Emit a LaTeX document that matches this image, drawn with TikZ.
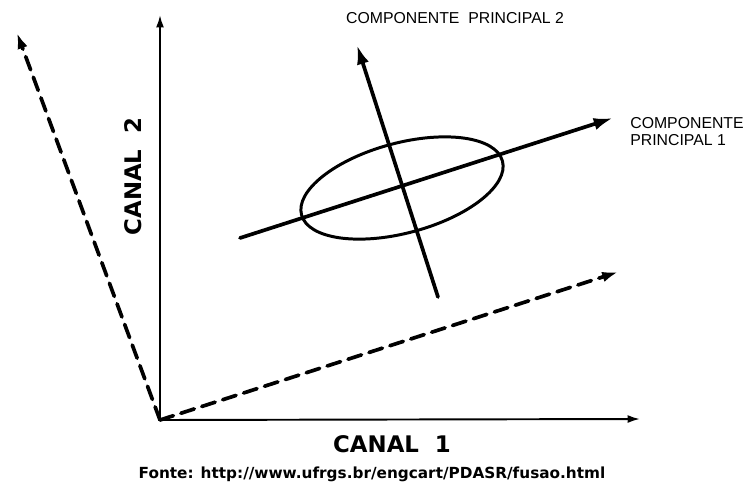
\documentclass[tikz,border=0pt]{standalone}
\usepackage{fontspec}
\setmainfont{DejaVu Sans}
\newfontfamily\rotulofont{Liberation Sans}
\usetikzlibrary{arrows.meta}
\tikzset{
  eixo/.style={line width=1.1pt, -{Latex[length=7pt,width=4.5pt]}},
  tracejado/.style={line width=2.1pt, dash pattern=on 8pt off 4.5pt, -{Latex[length=9pt,width=6pt]}},
  componente/.style={line width=2.1pt, -{Latex[length=11pt,width=7pt]}},
  rotulo/.style={font=\rotulofont\fontsize{9}{10}\selectfont, inner sep=0pt},
  canal/.style={font=\bfseries\fontsize{13}{15}\selectfont, inner sep=0pt},
}
\begin{document}
\begin{tikzpicture}[x=0.02cm, y=0.02cm, line join=round, line cap=round]
\useasboundingbox (0,0) rectangle (744,485);
% --- Eixos dos canais ---
\coordinate (O) at (160,65);
\coordinate (c2) at (160,470);
\coordinate (c1) at (640,66);
\draw[eixo] (O) -- (c2);
\draw[eixo] (O) -- (c1);
\node[canal, rotate=90] (canal2) at (133.5,308.5) {CANAL\ \ 2};
\node[canal] (canal1) at (392,41) {CANAL\ \ 1};
% --- Eixos tracejados ---
\coordinate (d2) at (17,452);
\coordinate (d1) at (618,213);
\draw[tracejado] (O) -- (d2);
\draw[tracejado] (O) -- (d1);
% --- Elipse e componentes principais ---
\coordinate (C) at (402,297);
\draw[line width=1.7pt, rotate around={15:(C)}] (C) ellipse [x radius=104, y radius=45];
\coordinate (p1a) at (240,247);
\coordinate (p1b) at (613,367);
\coordinate (p2a) at (438,188);
\coordinate (p2b) at (357,440);
\draw[componente] (p1a) -- (p1b);
\draw[componente] (p2a) -- (p2b);
\node[rotulo] (pc2) at (455,467) {COMPONENTE\ \ PRINCIPAL 2};
\node[rotulo, anchor=west, align=left] (pc1) at (630,353.5) {COMPONENTE\\PRINCIPAL 1};
% --- Fonte ---
\node[font=\bfseries\fontsize{8.7}{10}\selectfont, inner sep=0pt] (fonte) at (372,11) {Fonte: http://www.ufrgs.br/engcart/PDASR/fusao.html};
\end{tikzpicture}
\end{document}
